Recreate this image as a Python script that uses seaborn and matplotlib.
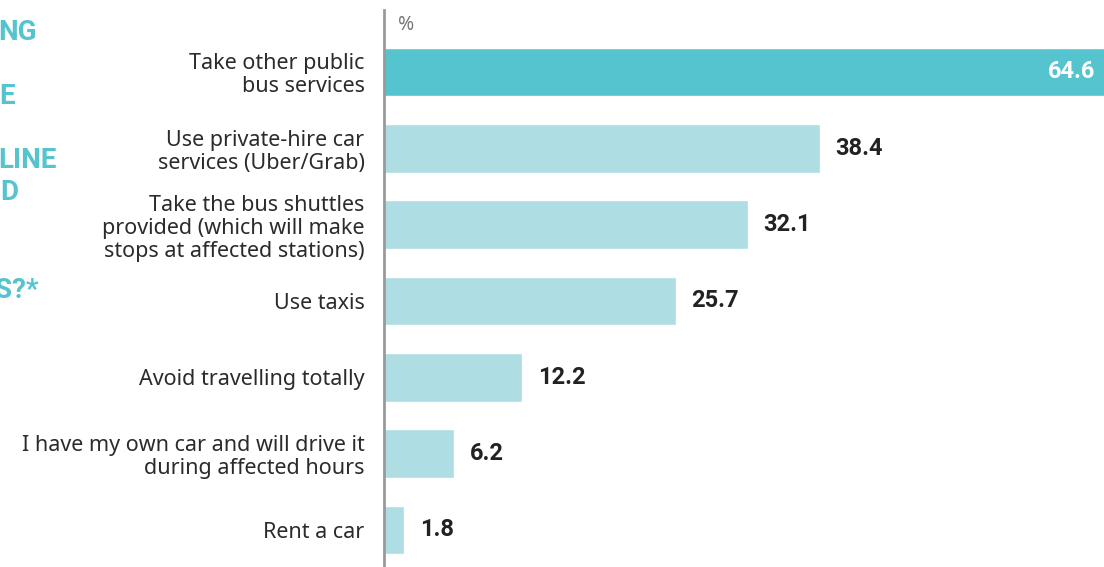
import matplotlib
matplotlib.use("Agg")
from matplotlib import pyplot as plt
import seaborn as sns
import pandas as pd

labels = [
    "Take other public\nbus services",
    "Use private-hire car\nservices (Uber/Grab)",
    "Take the bus shuttles\nprovided (which will make\nstops at affected stations)",
    "Use taxis",
    "Avoid travelling totally",
    "I have my own car and will drive it\nduring affected hours",
    "Rent a car",
]
values = [64.6, 38.4, 32.1, 25.7, 12.2, 6.2, 1.8]
title_bits = ["NG", "E", "LINE", "D", "S?*"]

TEAL = "#56C4CF"
LIGHT = "#AEDDE3"

df = pd.DataFrame({"option": labels, "pct": values})

sns.set_theme(style="white")
plt.rcParams["font.family"] = ["Noto Sans", "DejaVu Sans"]

fig = plt.figure(figsize=(11.04, 5.67), dpi=100)
ax = fig.add_axes([384 / 1104, 0, 1 - 384 / 1104, 557 / 567])

colors = [TEAL] + [LIGHT] * (len(values) - 1)
sns.barplot(data=df, x="pct", y="option", hue="option", palette=colors,
            legend=False, width=0.64, saturation=1, ax=ax)

ax.set_xlim(0, 720 / 11.35)
ax.set_ylim(6.485, -0.812)
ax.set_xlabel("")
ax.set_ylabel("")
ax.set_xticks([])
ax.tick_params(axis="y", length=0, pad=14)
for t in ax.get_yticklabels():
    t.set_fontsize(15.5)
    t.set_fontweight("light")
    t.set_color("#2b2b2b")
    t.set_linespacing(1.12)

for s in ["top", "right", "bottom"]:
    ax.spines[s].set_visible(False)
ax.spines["left"].set_color("#9a9a9a")
ax.spines["left"].set_linewidth(2)

for i, v in enumerate(values):
    if i == 0:
        ax.annotate(f"{v}", xy=(1, i), xycoords=("axes fraction", "data"),
                    xytext=(-6, 0), textcoords="offset points",
                    ha="right", va="center", color="white",
                    fontsize=17, fontweight="bold", family="Roboto")
    else:
        ax.annotate(f"{v}", xy=(v, i), xytext=(11, 0), textcoords="offset points",
                    ha="left", va="center", color="#222222",
                    fontsize=17, fontweight="bold", family="Roboto")

fig.text(398 / 1104, 1 - 25 / 567, "%", ha="left", va="center",
         fontsize=14, color="#777777")

# cut-off headline on the left
title_pos = [(37, 32), (15, 97), (57, 160), (18, 193), (38, 290)]
for txt, (px, py) in zip(title_bits, title_pos):
    fig.text(px / 1104, 1 - py / 567, txt, ha="right", va="center",
             fontsize=20, fontweight="bold", color=TEAL, family="Roboto")

fig.savefig("out.png", dpi=100)
